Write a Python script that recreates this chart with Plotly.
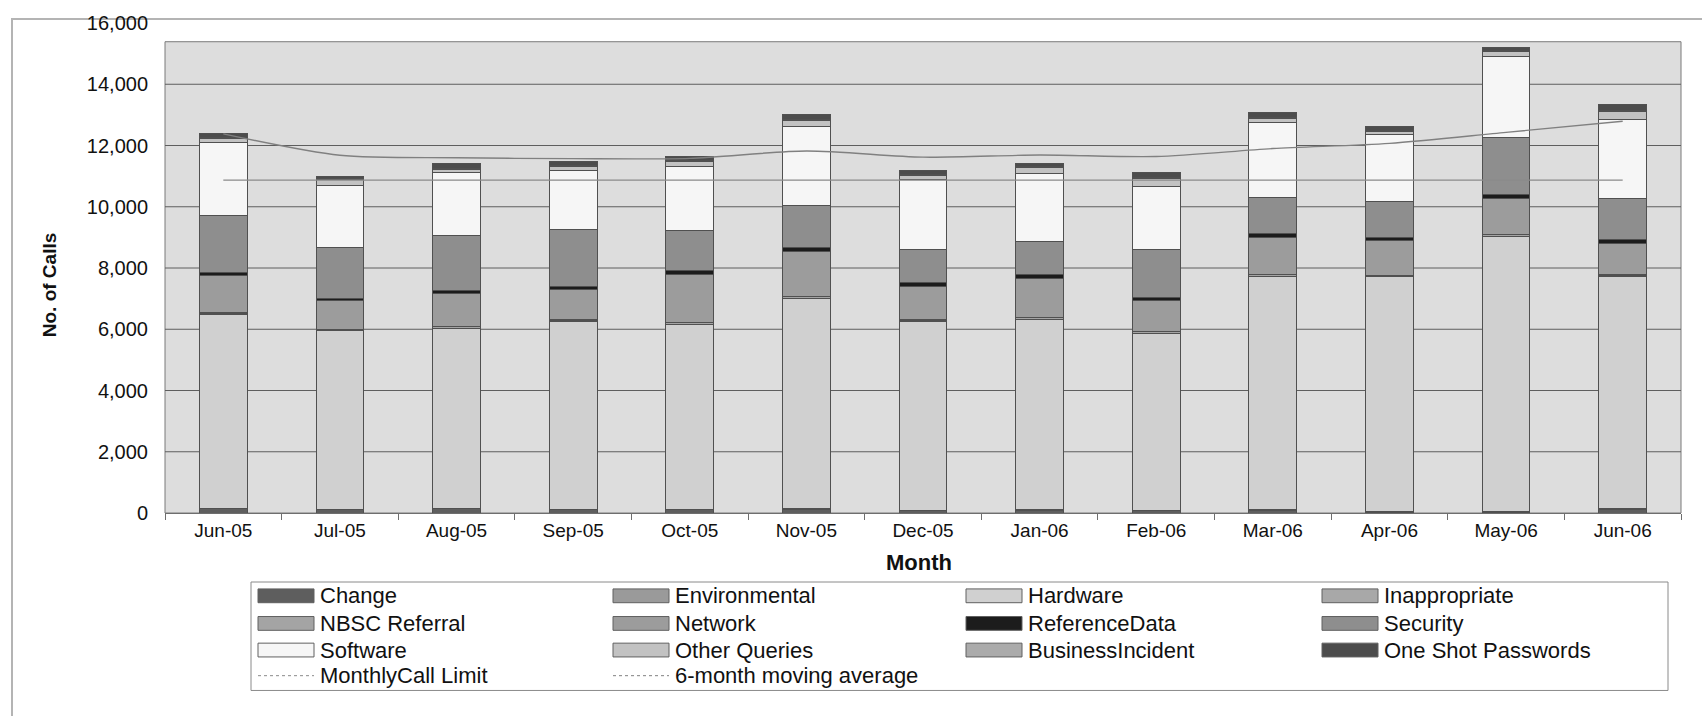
import plotly.graph_objects as go

# ---- data: monthly help-desk calls by category ----
months = ["Jun-05", "Jul-05", "Aug-05", "Sep-05", "Oct-05", "Nov-05", "Dec-05",
          "Jan-06", "Feb-06", "Mar-06", "Apr-06", "May-06", "Jun-06"]

change = [140, 100, 140, 100, 100, 120, 80, 80, 80, 80, 30, 30, 120]
environmental = [20, 15, 20, 15, 20, 25, 15, 20, 15, 20, 15, 20, 20]
hardware = [6330, 5840, 5860, 6150, 6030, 6865, 6170, 6220, 5770, 7610, 7670, 8980, 7590]
inappropriate = [10, 5, 10, 5, 10, 10, 5, 10, 5, 10, 5, 10, 10]
nbsc_referral = [60, 45, 55, 50, 70, 65, 50, 60, 45, 55, 50, 55, 50]
network = [1205, 920, 1070, 990, 1560, 1440, 1075, 1260, 1015, 1235, 1130, 1180, 1025]
reference_data = [85, 95, 95, 85, 140, 160, 140, 140, 120, 105, 85, 130, 105]
security = [1870, 1665, 1825, 1875, 1280, 1340, 1060, 1060, 1545, 1200, 1180, 1855, 1350]
software = [2390, 2015, 2040, 1920, 2090, 2605, 2285, 2230, 2070, 2425, 2190, 2650, 2565]
other_queries = [110, 185, 110, 120, 165, 185, 130, 205, 270, 150, 110, 165, 270]
business_incident = [30, 32, 28, 30, 30, 32, 30, 30, 34, 30, 28, 30, 30]
one_shot_passwords = [130, 65, 170, 150, 140, 150, 150, 110, 150, 160, 140, 95, 200]

monthly_call_limit = [10870, 10870, 10870, 10870, 10870, 10870, 10870,
                      10870, 10870, 10870, 10870, 10870, 10870]
moving_average = [12380, 11680, 11600, 11570, 11580, 11820, 11620,
                  11690, 11640, 11900, 12070, 12430, 12790]

y_ticks = [0, 2000, 4000, 6000, 8000, 10000, 12000, 14000, 16000]

# stacking order (bottom to top) with grey fills
series = [
    ("Change", change, "#5e5e5e"),
    ("Environmental", environmental, "#9a9a9a"),
    ("Hardware", hardware, "#d0d0d0"),
    ("Inappropriate", inappropriate, "#a8a8a8"),
    ("NBSC Referral", nbsc_referral, "#a4a4a4"),
    ("Network", network, "#9c9c9c"),
    ("ReferenceData", reference_data, "#1c1c1c"),
    ("Security", security, "#8e8e8e"),
    ("Software", software, "#f6f6f6"),
    ("Other Queries", other_queries, "#c2c2c2"),
    ("BusinessIncident", business_incident, "#ababab"),
    ("One Shot Passwords", one_shot_passwords, "#4c4c4c"),
]
line_series = [
    ("MonthlyCall Limit", monthly_call_limit, "#8a8a8a", "linear"),
    ("6-month moving average", moving_average, "#808080", "spline"),
]

# ---- page geometry (pixels) ----
W, H = 1702, 716
L, R, T, B = 165, 21, 16, 203
PW, PH = W - L - R, H - T - B
Y_MAX = 16000


def px_x(px):
    return (px - L) / PW


def px_y(py):
    return (H - B - py) / PH


TEXT = "#111111"
SANS = "Liberation Sans, Arial, sans-serif"

fig = go.Figure()

for name, vals, color in series:
    fig.add_trace(go.Bar(
        x=months, y=vals, name=name, width=0.41,
        marker=dict(color=color, line=dict(color="#505050", width=1)),
        showlegend=False,
    ))

for name, vals, color, shape in line_series:
    fig.add_trace(go.Scatter(
        x=months, y=vals, name=name, mode="lines",
        line=dict(color=color, width=1.4, shape=shape, smoothing=0.8),
        showlegend=False,
    ))

shapes = []
# grey plot panel (top edge sits below the top tick label)
panel_top = px_y(35) * Y_MAX
shapes.append(dict(type="rect", xref="paper", yref="y", x0=0, x1=1, y0=0, y1=panel_top,
                   fillcolor="#dddddd", line=dict(color="#7a7a7a", width=1), layer="below"))
# horizontal gridlines
for v in y_ticks[1:-1]:
    shapes.append(dict(type="line", xref="paper", yref="y", x0=0, x1=1, y0=v, y1=v,
                       line=dict(color="#5e5e5e", width=1), layer="below"))
# chart-area border
shapes.append(dict(type="rect", xref="paper", yref="paper",
                   x0=px_x(12), x1=px_x(1760), y0=px_y(760), y1=px_y(12),
                   line=dict(color="#b4b4b4", width=2), fillcolor="rgba(0,0,0,0)", layer="below"))

annotations = []

# ---- legend box: four columns, entries flow row by row ----
shapes.append(dict(type="rect", xref="paper", yref="paper",
                   x0=px_x(251), x1=px_x(1668), y0=px_y(693), y1=px_y(583),
                   line=dict(color="#8a8a8a", width=1), fillcolor="white"))
col_left = [258, 613, 966, 1322]
row_mid = [597, 625, 652, 678]
entries = [(n, c, "bar") for n, _, c in series] + [(n, c, "line") for n, _, c, _ in line_series]
for i, (name, color, kind) in enumerate(entries):
    r, c = divmod(i, 4)
    x0, yc = col_left[c], row_mid[r]
    if kind == "bar":
        shapes.append(dict(type="rect", xref="paper", yref="paper",
                           x0=px_x(x0), x1=px_x(x0 + 56), y0=px_y(yc + 7), y1=px_y(yc - 7),
                           fillcolor=color, line=dict(color="#606060", width=1)))
    else:
        shapes.append(dict(type="line", xref="paper", yref="paper",
                           x0=px_x(x0), x1=px_x(x0 + 56), y0=px_y(yc), y1=px_y(yc),
                           line=dict(color=color, width=1, dash="dot")))
    annotations.append(dict(xref="paper", yref="paper", x=px_x(x0 + 60), y=px_y(yc),
                            text=name, showarrow=False, xanchor="left", yanchor="middle",
                            font=dict(family=SANS, size=22, color=TEXT)))

# axis titles
annotations.append(dict(xref="paper", yref="paper", x=px_x(49), y=px_y(282),
                        text="<b>No. of Calls</b>", textangle=-90, showarrow=False,
                        xanchor="center", yanchor="middle",
                        font=dict(family=SANS, size=19, color=TEXT)))
annotations.append(dict(xref="paper", yref="paper", x=px_x(919), y=px_y(563),
                        text="<b>Month</b>", showarrow=False,
                        xanchor="center", yanchor="middle",
                        font=dict(family=SANS, size=22, color=TEXT)))

fig.update_layout(
    width=W, height=H,
    margin=dict(l=L, r=R, t=T, b=B, pad=0),
    barmode="stack",
    paper_bgcolor="white", plot_bgcolor="white",
    shapes=shapes, annotations=annotations,
    showlegend=False,
    xaxis=dict(type="category", range=[-0.5, 12.5], showgrid=False, zeroline=False,
               showline=True, linecolor="#6e6e6e", linewidth=1,
               ticks="outside", tickson="boundaries", ticklen=6, tickcolor="#6e6e6e",
               tickfont=dict(family=SANS, size=19, color=TEXT)),
    yaxis=dict(range=[0, Y_MAX], tickvals=y_ticks, tickformat=",d",
               showgrid=False, zeroline=False, showline=False, ticks="",
               ticklabelstandoff=16,
               tickfont=dict(family=SANS, size=20, color=TEXT)),
)

fig.write_html("out.html")
